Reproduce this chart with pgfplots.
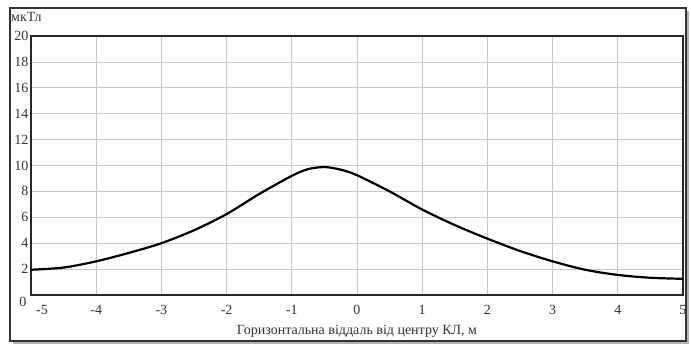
\documentclass[border=0pt]{standalone}
\usepackage{pgfplots}
\pgfplotsset{compat=1.18}
\usepackage{fontspec}
\setmainfont{Liberation Serif}
\definecolor{txt}{HTML}{333333}
\definecolor{grd}{HTML}{C8C8C8}
\begin{document}
\begin{tikzpicture}
\useasboundingbox (-31pt,-54pt) rectangle (660pt,295pt);
\fill[gray!60] (-18pt,-49pt) rectangle (658pt,284pt);
\draw[line width=1.2pt, draw=black!80, fill=white] (-21pt,-46pt) rectangle (655pt,287pt);
\begin{axis}[
  at={(0pt,0pt)}, anchor=south west,
  scale only axis, width=652pt, height=259pt,
  xmin=-5, xmax=5, ymin=0, ymax=20,
  xtick={-4,-3,...,5}, ytick={2,4,...,20},
  extra x ticks={-5}, extra x tick style={xticklabel style={xshift=11pt}, grid=none},
  grid=major, major grid style={grd, line width=0.8pt},
  tick style={draw=none},
  axis line style={line width=1.6pt, black!85},
  ticklabel style={font=\fontsize{14}{16}\selectfont, text=txt},
  /pgf/number format/assume math mode=true,
  xticklabel style={yshift=-7pt},
  yticklabel style={xshift=1pt},
  xlabel={Горизонтальна віддаль від центру КЛ, м},
  xlabel style={font=\fontsize{14}{16}\selectfont, text=txt, yshift=-3pt},
  clip=false,
]
\addplot[black, line width=2.2pt, smooth] coordinates {
(-5,1.95) (-4.5,2.12) (-4,2.6) (-3.5,3.25) (-3,4.0) (-2.5,5.0) (-2,6.25)
(-1.5,7.8) (-1,9.2) (-0.75,9.72) (-0.5,9.88) (-0.25,9.68) (0,9.25) (0.5,8.0)
(1,6.6) (1.5,5.4) (2,4.35) (2.5,3.4) (3,2.6) (3.5,1.95) (4,1.55) (4.5,1.33) (5,1.25)
};
\end{axis}
\node[font=\fontsize{14}{16}\selectfont, text=txt] at (-8pt,-7pt) {0};
\node[font=\fontsize{14}{16}\selectfont, text=txt, anchor=west, inner sep=0pt] at (-20pt,278pt) {мкТл};
\end{tikzpicture}
\end{document}
